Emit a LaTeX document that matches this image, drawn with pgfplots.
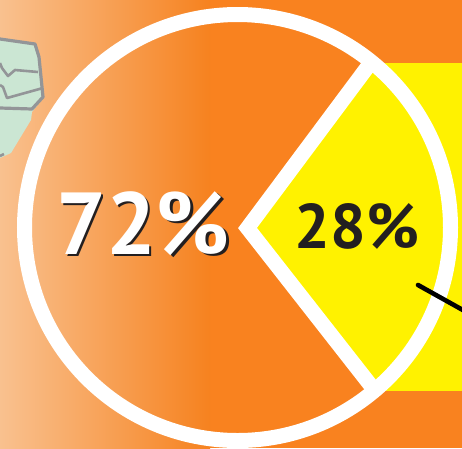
\documentclass[border=0pt]{standalone}
\usepackage{pgfplots}
\pgfplotsset{compat=1.18}
\usepackage{fontspec}
\setmainfont{PT Sans}
\definecolor{pieorange}{HTML}{F9821F}
\definecolor{deeporange}{HTML}{F6821F}
\definecolor{paleorange}{HTML}{F9C18F}
\definecolor{pieyellow}{HTML}{FFF200}
\definecolor{inkdark}{HTML}{231F20}
\definecolor{mapgreen}{HTML}{CBE6D3}
\definecolor{mapgrey}{HTML}{939598}
\begin{document}
\begin{tikzpicture}
\begin{axis}[
  scale only axis, x=1pt, y=1pt,
  xmin=0, xmax=462, ymin=0, ymax=448, y dir=reverse,
  hide axis, clip=true, axis on top=false,
]
% backdrop: flat orange with a pale fade on the left
\addplot[draw=none, fill=pieorange] coordinates {(205,0) (462,0) (462,448) (205,448)} -- cycle;
\addplot[draw=none, left color=paleorange, right color=deeporange] coordinates {(0,0) (210,0) (210,448) (0,448)} -- cycle;
% yellow panel behind the ring
\addplot[draw=none, fill=pieyellow] coordinates {(380,63) (462,63) (462,391) (380,391)} -- cycle;
% map fragment
\addplot[draw=none, fill=mapgreen] coordinates {(0,38) (35,44) (40,57) (44,97) (32,112) (31,120) (11,153) (0,158)} -- cycle;
\addplot[mapgrey, line width=3.2pt, line join=round] coordinates {(0,39) (35,44) (39,57) (43,97) (32,109) (0,108)};
\addplot[mapgrey, line width=2.6pt, line join=round] coordinates {(0,63) (2,68) (8,76) (15,70) (38,72)};
\addplot[mapgrey, line width=2.6pt, line join=round] coordinates {(0,85) (3,87) (7,98) (43,88)};
\addplot[mapgrey, line width=2.6pt] coordinates {(0,156) (4,154)};
% the 28% slice; its outer vertices lie under the ring
\addplot[draw=none, fill=pieyellow] coordinates {(247.5,228) (368.6,59.5) (388.1,76.9) (422,121) (443.2,172.4) (450.5,227.5) (443.2,282.6) (422,334) (388.1,378.1) (370.5,393.5)} -- cycle;
% ring and spokes
\draw[white, line width=15pt] (axis cs:237.5,227.5) circle [radius=213pt];
\addplot[white, line width=15pt, line join=miter] coordinates {(369,65) (247.5,228) (372,387)};
% leader line
\addplot[black, line width=4.6pt, line cap=round] coordinates {(418,285) (470,314)};
% value labels
\node[inkdark, anchor=center, font=\fontsize{88}{88}\selectfont\bfseries] at (axis cs:145.5,226) {72\%};
\node[white, anchor=center, font=\fontsize{88}{88}\selectfont\bfseries] at (axis cs:143,224) {72\%};
\node[inkdark, anchor=center, font=\fontsize{63}{63}\selectfont\bfseries] at (axis cs:357,226) {28\%};
\end{axis}
\end{tikzpicture}
\end{document}
